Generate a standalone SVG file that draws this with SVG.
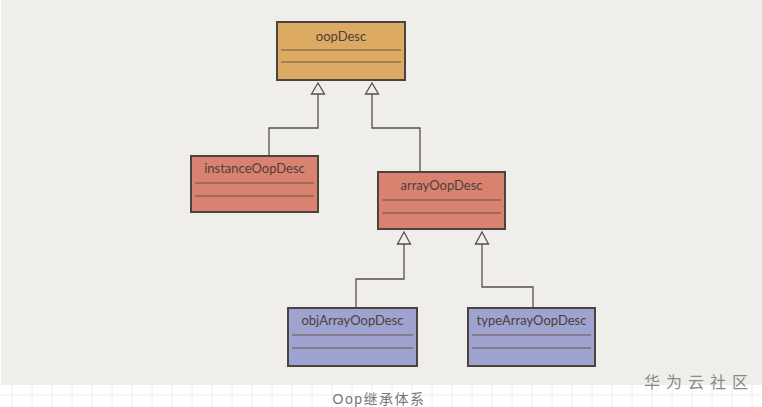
<svg xmlns="http://www.w3.org/2000/svg" width="762" height="407" viewBox="0 0 762 407">
<defs>
<style>
.box{stroke:#4a4340;stroke-width:2}
.sep{stroke:#6a5548;stroke-width:1.2}
.lbl{font-family:"Lato","DejaVu Sans",sans-serif;font-size:13px;fill:#4f3f38;text-anchor:middle}
.c{fill:none;stroke:#55504c;stroke-width:1.3}
.tri{fill:#f0efeb;stroke:#55504c;stroke-width:1.3}
.grid{stroke:#eeeeee;stroke-width:1}
</style>
</defs>
<rect x="0" y="0" width="762" height="407" fill="#ffffff"/>
<g id="grid">
<path class="grid" d="M12 385V407M32 385V407M52 385V407M72 385V407M92 385V407M112 385V407M132 385V407M152 385V407M172 385V407M192 385V407M212 385V407M232 385V407M252 385V407M272 385V407M292 385V407M312 385V407M332 385V407M352 385V407M372 385V407M392 385V407M412 385V407M432 385V407M452 385V407M472 385V407M492 385V407M512 385V407M532 385V407M552 385V407M572 385V407M592 385V407M612 385V407M632 385V407M652 385V407M672 385V407M692 385V407M712 385V407M732 385V407M752 385V407M0 395H762"/>
</g>
<rect x="1" y="0" width="761" height="385" fill="#efeeea"/>
<g id="connectors">
<path class="c" d="M269 155V128H318V94"/>
<polygon class="tri" points="318,83 311.5,94 324.5,94"/>
<path class="c" d="M420 172V128H372V94"/>
<polygon class="tri" points="372,83 365.5,94 378.5,94"/>
<path class="c" d="M356 308V279H404V244"/>
<polygon class="tri" points="404,232 397.5,244 410.5,244"/>
<path class="c" d="M533 308V287H482V244"/>
<polygon class="tri" points="482,232 475.5,244 488.5,244"/>
</g>
<g id="oopDesc">
<rect class="box" x="277" y="22" width="128" height="58" fill="#dcaa62"/>
<path class="sep" d="M281 50H401M281 62H401"/>
<text class="lbl" x="341" y="41">oopDesc</text>
</g>
<g id="instanceOopDesc">
<rect class="box" x="191" y="156" width="127" height="56" fill="#d8826f"/>
<path class="sep" d="M195 183H314M195 196H314"/>
<text class="lbl" x="254.5" y="173">instanceOopDesc</text>
</g>
<g id="arrayOopDesc">
<rect class="box" x="378" y="172" width="127" height="57" fill="#d8826f"/>
<path class="sep" d="M382 200H501M382 213H501"/>
<text class="lbl" x="441.5" y="190">arrayOopDesc</text>
</g>
<g id="objArrayOopDesc">
<rect class="box" x="288" y="308" width="129" height="58" fill="#9ea3cf"/>
<path class="sep" d="M292 335H413M292 348H413"/>
<text class="lbl" x="352.5" y="325">objArrayOopDesc</text>
</g>
<g id="typeArrayOopDesc">
<rect class="box" x="468" y="308" width="127" height="58" fill="#9ea3cf"/>
<path class="sep" d="M472 335H591M472 348H591"/>
<text class="lbl" x="531.5" y="325">typeArrayOopDesc</text>
</g>
<text x="754" y="388" font-family="'Noto Sans CJK SC',sans-serif" font-size="16" fill="#8a8a8a" text-anchor="end" letter-spacing="6">华为云社区</text>
<text x="379" y="404" font-family="'Liberation Sans','Noto Sans CJK SC',sans-serif" font-size="14" fill="#777777" text-anchor="middle" letter-spacing="1.5">Oop继承体系</text>
</svg>
